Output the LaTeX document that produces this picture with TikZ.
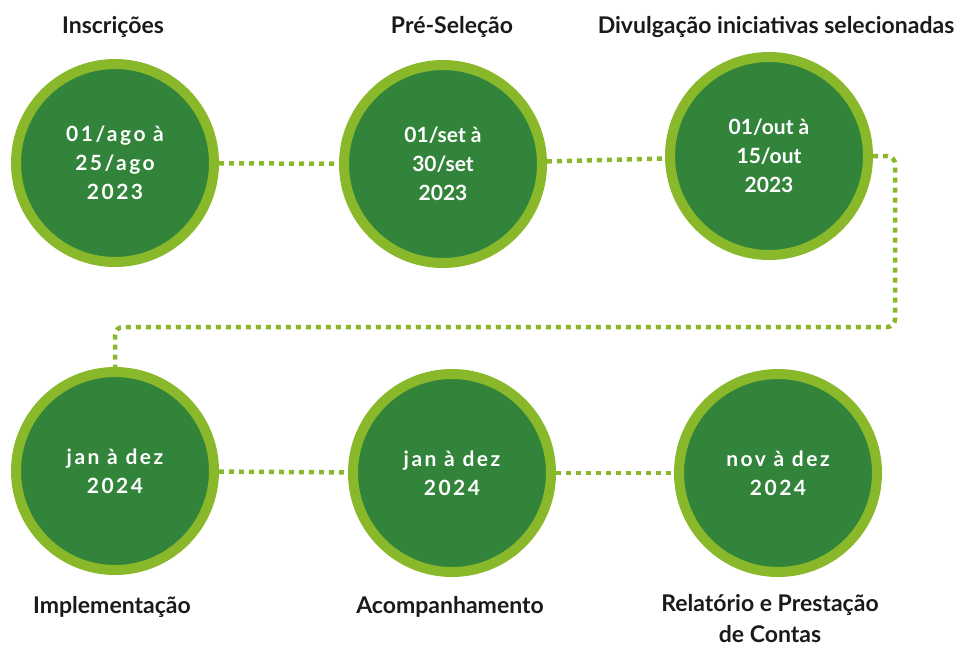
\documentclass[tikz,border=0pt]{standalone}
\usepackage{fontspec}
\setmainfont{Lato}
\newfontfamily\spacedfont[LetterSpace=12]{Lato}
\usetikzlibrary{backgrounds}
\definecolor{ringgreen}{HTML}{8AB82B}
\definecolor{fillgreen}{HTML}{32843A}
\definecolor{labeltext}{HTML}{1A1A1A}
\begin{document}
\begin{tikzpicture}[x=1pt,y=-1pt,
  stage/.style={circle, draw=ringgreen, fill=fillgreen, line width=10pt,
    minimum size=198pt, inner sep=0pt, text=white, align=center,
    font=\fontsize{21}{29}\selectfont\bfseries},
  spacedstage/.style={stage, font=\spacedfont\fontsize{21}{29}\selectfont\bfseries},
  conn/.style={draw=ringgreen, line width=4.5pt, dash pattern=on 5pt off 5pt},
  lbl/.style={text=labeltext, align=center, inner sep=1pt,
    font=\fontsize{23}{31}\selectfont\bfseries}]
\useasboundingbox (0,0) rectangle (968,646);

% stages
\node[spacedstage] (c1) at (115,163) {01/ago à\\25/ago\\2023};
\node[stage]       (c2) at (443,164) {01/set à\\30/set\\2023};
\node[stage]       (c3) at (769,156) {01/out à\\15/out\\2023};
\node[spacedstage] (c4) at (115,471) {jan à dez\\2024};
\node[spacedstage] (c5) at (452,473) {jan à dez\\2024};
\node[spacedstage] (c6) at (778,473) {nov à dez\\2024};

% labels
\node[lbl] (l1) at (113,27) {Inscrições};
\node[lbl] (l2) at (452,27) {Pré-Seleção};
\node[lbl] (l3) at (776,27) {Divulgação iniciativas selecionadas};
\node[lbl] (l4) at (112,607) {Implementação};
\node[lbl] (l5) at (450,607) {Acompanhamento};
\node[lbl] (l6) at (770,619) {Relatório e Prestação\\de Contas};

% connectors
\coordinate (turn) at (895,327);
\begin{scope}[on background layer]
  \draw[conn] (c1) -- (c2);
  \draw[conn] (c2) -- (c3);
  \draw[conn, rounded corners=8pt] (c3.east) -| (turn) -| (c4.north);
  \draw[conn] (c4) -- (c5);
  \draw[conn] (c5) -- (c6);
\end{scope}
\end{tikzpicture}
\end{document}
